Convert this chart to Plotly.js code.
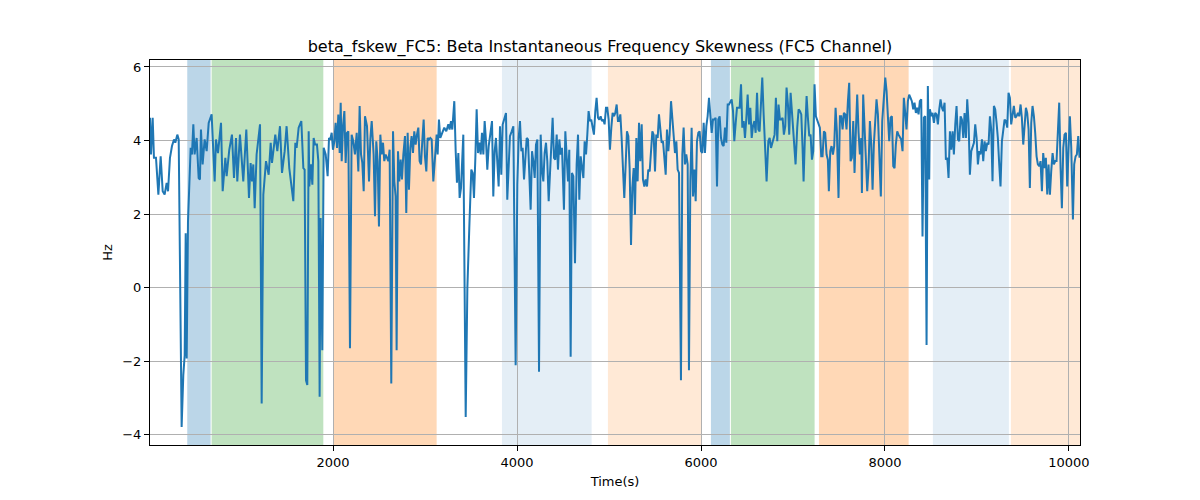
<!DOCTYPE html>
<html>
<head>
<meta charset="utf-8">
<script src="https://cdn.plot.ly/plotly-3.0.1.min.js"></script>
<style>
  html, body { margin: 0; padding: 0; background: #fff; }
  #chart { width: 1200px; height: 500px; }
</style>
</head>
<body>
<div id="chart"></div>
<script>
'use strict'

// Time samples (s)
const timeSec = [
  10,21,39,53,75,101,126,148,169,191,206,227,249,271,285,307,322,354,372,387,398,409,423,452,466,481,495,517,539,553,564,582,604,626,648,680,713,727,749,782,800,829,843,872,901,923,945,959,988,1024,1057,1086,1104,1119,1133,1148,1169,1206,1224,1242,1271,1300,1322,1336,1372,1394,1423,1445,1474,1495,1524,1568,1590,1604,1626,1655,1677,1691,1706,1720,1735,
  1742,1760,1775,1789,1804,1825,1840,1854,1865,1883,1898,1920,1941,1956,1970,1985,1999,2014,2028,2043,2057,2072,2083,2094,2108,2123,2137,2151,2166,2184,2202,2220,2238,2257,2275,2289,2304,2318,2333,2347,2369,2391,2405,2420,2441,2456,2470,2485,2499,2514,2528,2543,2557,2572,2586,2601,2615,2633,2652,2666,2680,2691,2706,2720,2735,2749,2764,2782,2796,2811,2825,2840,2854,2869,2883,2898,2912,2927,2941,2956,2970,2985,2999,3014,3028,3043,3057,3072,3090,3108,3126,3137,3151,3166,3188,3209,3231,3253,3267,3282,3296,3318,3333,3347,3362,3376,3391,
  3398,3416,3442,3460,3481,3503,3518,3532,3547,3561,3576,3590,3605,3619,3634,3648,3663,3677,3692,3706,3728,3742,3757,3771,3786,3800,3815,3829,3844,3858,3880,3894,3909,3923,3942,3960,3985,4003,4018,4032,4047,4061,4076,4090,4105,4119,4134,4148,4163,4177,4192,4206,4221,4239,4257,4271,4286,4300,4315,4329,4344,4358,4373,4387,4402,4416,4431,4445,4460,4474,4489,4510,4525,4539,4554,4568,4583,4597,4612,4630,4648,4663,4677,4692,4706,4721,4735,4750,4764,4778,4793,4807,4822,4836,4851,4865,4880,4894,4909,4923,4938,4952,4967,4981,4996,5010,5025,5039,5054,5068,5083,5097,
  5108,5123,5137,5152,5166,5181,5195,5210,5224,5239,5253,5268,5282,5297,5311,5326,5340,5355,5369,5384,5398,5413,5427,5442,5456,5471,5485,5500,5514,5529,5543,5558,5572,5587,5601,5616,5630,5645,5659,5674,5688,5703,5717,5732,5746,5761,5782,5797,5811,5826,5840,5855,5869,5884,5898,5913,5927,5942,5956,5971,5985,6000,6014,6029,6043,6058,6072,6087,6101,6116,6130,6145,6159,6174,6188,6203,6217,6232,6246,6261,6275,6290,6304,6319,6333,6348,6362,6377,6391,6406,6420,6435,6449,6464,6478,6493,6507,6522,6536,6551,6565,6580,6594,6609,6623,6637,6652,6666,6681,6695,6713,6732,6746,6761,6775,
  6800,6814,6829,6843,6858,6872,6887,6901,6916,6930,6945,6959,6974,6988,7003,7017,7028,7046,7061,7075,7090,7104,7115,7129,7148,7162,7177,7191,7206,7220,7234,7249,7263,7278,7292,7307,7321,7336,7350,7365,7379,7390,7405,7419,7434,7448,7463,7477,7495,7510,7524,7539,7553,7568,7582,7597,7611,7626,7640,7655,7669,7684,7698,7713,7727,7742,7749,7763,7778,7792,7807,7821,7836,7850,7865,7879,7894,7908,7923,7937,7955,7970,7988,8003,8017,8032,8046,8061,8075,8090,8104,8118,8133,8147,8162,8176,8191,8205,8220,8234,8249,8263,8278,8292,8307,8321,8336,8350,8365,8379,8394,8408,8423,8437,8452,8466,8481,
  8488,8503,8517,8532,8546,8561,8575,8590,8604,8619,8633,8648,8662,8677,8691,8706,8720,8735,8749,8764,8778,8793,8807,8822,8836,8851,8865,8880,8894,8909,8923,8938,8952,8967,8981,8996,9010,9025,9039,9054,9068,9083,9097,9112,9126,9141,9155,9169,9184,9198,9213,9227,9242,9256,9271,9285,9300,9314,9329,9343,9358,9372,9387,9401,9416,9430,9445,9459,9474,9488,9503,9517,9532,9546,9561,9575,9590,9604,9619,9633,9648,9662,9677,9691,9706,9720,9735,9749,9764,9778,9793,9807,9822,9836,9851,9865,9880,9894,9909,9923,9938,9952,9967,9981,9996,10010,10025,10043,10057,10072,10086,10101,10115
];

// Beta frequency skewness (Hz)
const skewHz = [
  4.62,3.62,4.62,3.53,3.53,2.53,3.57,2.62,2.53,2.85,2.62,3.53,3.85,4.03,3.94,4.16,4.03,-3.79,-2.38,-1.84,1.48,-1.93,1.8,3.8,3.62,4.44,3.62,4.07,2.98,2.94,4.3,3.35,4.03,3.71,4.48,4.71,2.89,4.03,3.66,4.48,2.62,3.53,3.03,3.75,4.16,2.98,4.07,2.89,4.16,2.89,4.3,2.44,3.39,2.89,3.35,2.16,3.62,4.44,-3.15,2.53,3.44,3.07,3.94,3.39,4.16,3.71,4.39,3.12,3.71,4.39,3.25,2.35,3.94,3.8,4.35,4.53,3.25,3.21,-2.52,-2.65,4.25,
  2.75,3.35,2.8,4.07,3.89,3.89,3.44,-2.97,1.89,-1.7,3.8,3.62,3.03,4.07,4.03,4.21,3.75,3.98,4.48,3.8,4.71,3.66,5.03,3.44,4.39,4.8,3.39,4.21,4.25,-1.65,4.16,3.98,3.62,4.21,3.16,4.94,3.62,3.39,2.62,4.66,4.39,2.89,4.03,4.53,3.62,1.94,3.98,3.44,1.66,4.16,3.62,3.94,3.44,3.62,3.53,3.44,3.75,-2.61,4.25,2.89,2.48,-1.7,3.71,2.89,3.48,2.94,3.62,4.12,2.03,4.21,2.66,3.8,4.12,3.66,4.25,3.89,4.16,4.35,3.44,3.35,3.98,4.57,3.57,3.16,4.07,4.03,4.07,4.03,2.89,3.71,4.16,3.62,4.57,4.07,4.21,4.35,4.25,4.44,4.3,4.53,4.3,5.07,3.71,2.85,3.66,2.44,2.71,
  3.25,4.16,-3.52,-0.02,1.62,3.21,3.12,2.44,3.53,4.85,3.66,3.94,3.62,4.21,3.62,4.53,3.98,3.21,3.85,4.12,4.53,2.48,3.71,4.07,3.16,2.75,4.39,3.07,4.44,4.57,4.75,2.39,3.53,4.12,4.25,4.39,-2.11,2.8,4.07,4.53,3.71,3.8,2.94,3.62,4.07,4.03,3.25,2.12,3.71,3.44,2.98,3.89,4.03,-2.29,4.16,3.21,2.89,3.66,3.94,3.44,2.35,3.21,3.8,4.62,3.53,3.48,4.16,3.21,4.03,3.62,3.8,2.12,4.25,3.35,2.89,3.75,-1.88,3.12,3.03,0.66,3.35,4.16,2.39,3.57,3.25,2.98,3.98,3.62,4.16,4.8,4.53,4.57,4.35,4.16,4.8,5.16,4.62,4.57,4.66,4.53,4.57,4.44,4.89,4.89,4.57,3.75,4.35,4.75,4.66,4.75,4.98,4.53,
  4.53,4.71,4.07,3.25,2.44,3.35,4.25,4.12,3.25,1.16,2.71,3.25,1.98,4.07,2.89,4.48,3.44,4.44,2.94,2.75,2.94,2.75,3.21,3.16,3.71,4.25,4.16,3.16,4.16,4.07,4.71,4.25,3.94,3.98,3.48,3.07,4.3,3.71,4.16,5.07,4.62,3.98,3.66,3.98,3.21,3.12,-2.52,3.62,4.35,3.35,3.62,3.35,-2.25,2.89,4.35,2.48,3.21,2.35,3.98,4.21,4.25,3.71,3.66,4.48,3.66,4.39,4.66,5.16,4.75,4.21,4.57,4.57,4.62,2.75,4.57,4.66,4.07,3.89,3.85,4.35,3.94,4.98,4.98,5.07,5.12,4.8,3.98,4.48,4.89,4.89,4.89,5.53,4.35,4.53,4.07,4.62,5.25,4.44,4.89,4.07,4.39,4.53,4.21,5.3,4.3,4.25,4.98,5.71,4.71,3.89,2.89,3.98,4.07,3.8,3.94,
  4.16,5.16,3.98,4.98,4.57,4.57,4.62,4.16,4.39,5.44,4.98,4.16,5.3,4.8,4.25,3.8,3.35,4.35,4.85,4.8,4.71,3.8,2.89,4.07,5.21,4.62,4.12,4.16,3.48,3.71,5.53,4.66,4.57,4.48,4.35,3.57,3.57,4.25,4.21,3.62,3.48,2.62,3.71,3.85,3.62,3.85,4.89,4.25,2.44,4.66,4.66,4.3,4.75,4.71,4.3,5.07,5.57,3.44,3.53,4.53,3.12,4.3,5.25,4.21,3.62,4.07,2.57,5.25,4.44,3.44,2.62,3.25,4.53,3.94,2.66,3.89,4.44,5.12,4.71,3.62,2.48,4.53,5.25,5.71,5.35,4.62,3.98,4.62,4.66,3.3,3.25,3.89,4.25,4.16,4.07,4.03,3.71,5.16,4.75,4.3,5.07,5.25,5.16,5.07,4.85,5.03,4.75,4.89,4.71,5.07,5.12,1.39,4.62,4.66,-1.56,5.48,2.94,
  4.85,4.66,4.75,4.48,4.75,4.71,4.44,4.85,5.12,4.89,4.8,5.03,3.48,3.53,2.98,4.25,3.75,4.25,3.62,4.44,4.94,4.03,3.98,4.66,4.57,4.07,4.75,4.07,5.12,4.48,3.07,3.71,3.85,3.94,4.44,4.07,3.35,3.71,3.62,4.03,3.44,3.98,3.71,3.94,3.89,4.66,4.3,2.89,4.94,4.85,4.48,4.07,3.35,2.75,3.98,4.21,4.57,4.53,4.35,5.3,5.16,4.44,4.71,4.94,4.62,4.66,4.75,4.66,4.98,4.62,3.89,4.44,4.89,4.75,4.3,2.71,4.48,4.94,4.66,4.21,3.57,3.35,3.3,3.44,2.62,3.66,3.25,3.53,2.53,3.35,2.53,3.16,3.66,3.35,3.44,3.44,4.53,5.03,3.25,2.16,3.8,4.16,4.21,2.75,3.8,4.66,3.8,1.85,3.35,3.57,3.62,4.12,3.53
];

// Axis ticks
const xTicks = [2000, 4000, 6000, 8000, 10000];
const xTickText = ['2000', '4000', '6000', '8000', '10000'];
const yTicks = [-4, -2, 0, 2, 4, 6];

// Shaded segments (start, end in seconds) and their kind
const bandStart = [415, 680, 2007, 3836, 4988, 6108, 6325, 7282, 8521, 9369];
const bandEnd   = [669, 1894, 3126, 4811, 6003, 6314, 7235, 8257, 9347, 10120];
const bandKind  = ['blue', 'green', 'orange', 'paleblue', 'paleorange',
                   'blue', 'green', 'orange', 'paleblue', 'paleorange'];

const fills = {
  blue: 'rgba(31,119,180,0.3)',
  green: 'rgba(44,160,44,0.3)',
  orange: 'rgba(255,127,14,0.3)',
  paleblue: 'rgba(31,119,180,0.12)',
  paleorange: 'rgba(255,127,14,0.17)'
};

let shapes = bandStart.map((s, i) => ({
  type: 'rect',
  xref: 'x',
  yref: 'paper',
  x0: s,
  x1: bandEnd[i],
  y0: 0,
  y1: 1,
  fillcolor: fills[bandKind[i]],
  line: { width: 0 },
  layer: 'below'
}));

const trace = {
  x: timeSec,
  y: skewHz,
  type: 'scatter',
  mode: 'lines',
  line: { color: '#1f77b4', width: 2 },
  hoverinfo: 'x+y'
};

const axisStyle = {
  showgrid: true,
  gridcolor: '#b0b0b0',
  gridwidth: 1,
  zeroline: false,
  showline: true,
  linecolor: '#000',
  linewidth: 1,
  mirror: true,
  ticks: 'outside',
  ticklen: 5,
  tickcolor: '#000',
  tickfont: { size: 13, color: '#000' }
};

const layout = {
  width: 1200,
  height: 500,
  margin: { l: 150, r: 120, t: 60, b: 55 },
  paper_bgcolor: '#fff',
  plot_bgcolor: '#fff',
  font: { family: 'DejaVu Sans', color: '#000' },
  showlegend: false,
  title: {
    text: 'beta_fskew_FC5: Beta Instantaneous Frequency Skewness (FC5 Channel)',
    font: { size: 16, color: '#000' },
    x: 0.5,
    xanchor: 'center',
    y: 0.908,
    yanchor: 'middle'
  },
  xaxis: Object.assign({}, axisStyle, {
    range: [10, 10120],
    tickvals: xTicks,
    ticktext: xTickText,
    title: { text: 'Time(s)', font: { size: 13 }, standoff: 8 }
  }),
  yaxis: Object.assign({}, axisStyle, {
    range: [-4.28, 6.19],
    tickvals: yTicks,
    title: { text: 'Hz', font: { size: 13 }, standoff: 6 }
  }),
  shapes: shapes
};

Plotly.newPlot('chart', [trace], layout, { displayModeBar: false, staticPlot: true });
</script>
</body>
</html>
